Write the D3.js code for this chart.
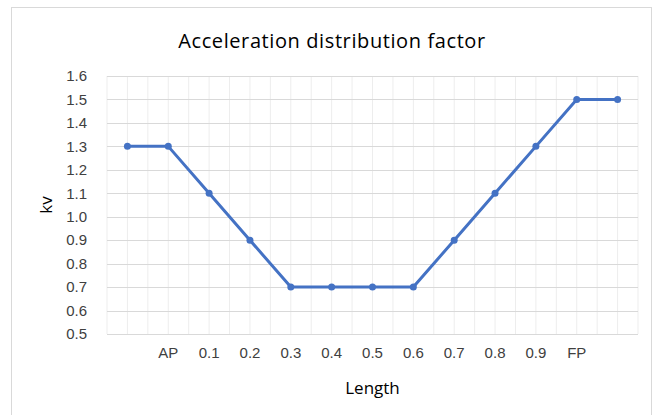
<!DOCTYPE html>
<html lang="en">
<head>
<meta charset="UTF-8">
<title>Acceleration distribution factor</title>
<script src="https://d3js.org/d3.v7.min.js"></script>
<style>
body { margin: 0; background: #fff; font-family: "Open Sans", "Noto Sans", sans-serif; }
.axis text { font-size: 15px; fill: #404040; }
</style>
</head>
<body>
<script>
// category labels along the ship length (first and last are blank)
var positions = ["s", "AP", "0.1", "0.2", "0.3", "0.4", "0.5", "0.6", "0.7", "0.8", "0.9", "FP", "e"];
var tickLabels = ["", "AP", "0.1", "0.2", "0.3", "0.4", "0.5", "0.6", "0.7", "0.8", "0.9", "FP", ""];
var kv = [1.3, 1.3, 1.1, 0.9, 0.7, 0.7, 0.7, 0.7, 0.9, 1.1, 1.3, 1.5, 1.5];
var yTicks = [0.5, 0.6, 0.7, 0.8, 0.9, 1.0, 1.1, 1.2, 1.3, 1.4, 1.5, 1.6];

var W = 660, H = 415;
var margin = {top: 76, right: 22, bottom: 81, left: 107};
var width = W - margin.left - margin.right;
var height = H - margin.top - margin.bottom;

var svg = d3.select("body").append("svg")
    .attr("width", W)
    .attr("height", H);

// chart frame
svg.append("rect")
    .attr("x", 11.5).attr("y", 7.5)
    .attr("width", 640).attr("height", 420)
    .attr("fill", "#fff")
    .attr("stroke", "#d9d9d9");

var g = svg.append("g")
    .attr("transform", "translate(" + margin.left + "," + margin.top + ")");

var x = d3.scaleBand()
    .domain(positions)
    .range([0, width]);

var y = d3.scaleLinear()
    .domain([0.5, 1.6])
    .range([height, 0]);

// vertical gridlines at band edges and centres
var vLines = [];
positions.forEach(function(p) {
    vLines.push(x(p));
    vLines.push(x(p) + x.bandwidth() / 2);
});
vLines.push(width);

g.selectAll(".vgrid")
    .data(vLines)
    .enter().append("line")
    .attr("class", "vgrid")
    .attr("x1", function(d) { return d; })
    .attr("x2", function(d) { return d; })
    .attr("y1", 0)
    .attr("y2", height)
    .attr("stroke", "#ededed")
    .attr("stroke-width", 1);

// horizontal gridlines
g.selectAll(".hgrid")
    .data(yTicks)
    .enter().append("line")
    .attr("class", "hgrid")
    .attr("x1", 0)
    .attr("x2", width)
    .attr("y1", function(d) { return Math.round(y(d)) + 0.5; })
    .attr("y2", function(d) { return Math.round(y(d)) + 0.5; })
    .attr("stroke", "#d9d9d9")
    .attr("stroke-width", 1);

// y axis labels
var yAxis = d3.axisLeft(y)
    .tickValues(yTicks)
    .tickFormat(d3.format(".1f"))
    .tickSize(0)
    .tickPadding(20);
g.append("g")
    .attr("class", "axis")
    .call(yAxis)
    .call(function(s) { s.select(".domain").remove(); });

// x axis labels
var xAxis = d3.axisBottom(x)
    .tickFormat(function(d, i) { return tickLabels[i]; })
    .tickSize(0)
    .tickPadding(13);
g.append("g")
    .attr("class", "axis")
    .attr("transform", "translate(0," + height + ")")
    .call(xAxis)
    .call(function(s) { s.select(".domain").remove(); });

// data line
var line = d3.line()
    .x(function(d, i) { return x(positions[i]) + x.bandwidth() / 2; })
    .y(function(d) { return y(d); });

g.append("path")
    .datum(kv)
    .attr("d", line)
    .attr("fill", "none")
    .attr("stroke", "#4472c4")
    .attr("stroke-width", 3)
    .attr("stroke-linejoin", "round");

g.selectAll(".dot")
    .data(kv)
    .enter().append("circle")
    .attr("class", "dot")
    .attr("cx", function(d, i) { return x(positions[i]) + x.bandwidth() / 2; })
    .attr("cy", function(d) { return y(d); })
    .attr("r", 3.5)
    .attr("fill", "#4472c4");

// title
svg.append("text")
    .attr("x", 332)
    .attr("y", 48)
    .attr("text-anchor", "middle")
    .style("font-size", "20px")
    .style("letter-spacing", "0.6px")
    .style("fill", "#000")
    .text("Acceleration distribution factor");

// axis titles
svg.append("text")
    .attr("x", margin.left + width / 2)
    .attr("y", 394)
    .attr("text-anchor", "middle")
    .style("font-size", "17px")
    .style("fill", "#000")
    .text("Length");

svg.append("text")
    .attr("transform", "translate(52," + (margin.top + height / 2) + ") rotate(-90)")
    .attr("text-anchor", "middle")
    .style("font-size", "17px")
    .style("fill", "#000")
    .text("kv");
</script>
</body>
</html>
